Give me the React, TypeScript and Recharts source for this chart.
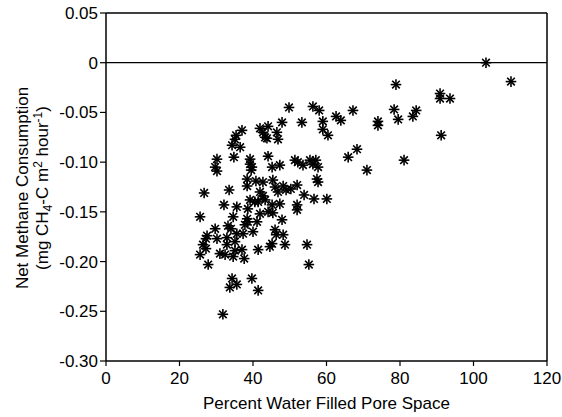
import React from 'react';
import { ScatterChart, Scatter, XAxis, YAxis, ReferenceLine } from 'recharts';

const wfps = [
  103.4, 110.2, 78.9, 90.9, 90.9, 93.6, 49.8, 56.3, 58.0, 67.2, 78.4, 84.4, 83.5, 79.5, 62.6, 63.9,
  59.0, 53.3, 47.9, 74.0, 74.0, 59.0, 60.4, 91.2, 68.3, 65.9, 81.1, 71.0, 55.5, 57.1, 56.3, 57.7,
  53.6, 57.4, 57.7, 53.9, 56.6, 60.1, 41.9, 44.1, 46.5, 46.8, 42.7, 43.3, 43.8, 37.0, 35.4, 35.1,
  34.3, 36.5, 34.8, 30.2, 29.7, 30.2, 39.2, 39.2, 39.7, 39.5, 44.1, 45.2, 47.3, 51.4, 52.2, 38.4,
  40.8, 38.4, 42.7, 45.4, 46.0, 46.8, 48.2, 49.0, 50.3, 52.0, 33.5, 26.7, 41.9, 42.7, 43.3, 39.2,
  40.5, 41.4, 32.1, 35.6, 38.6, 45.2, 47.3, 52.0, 52.0, 41.9, 44.1, 45.4, 25.6, 34.6, 38.4, 38.6,
  37.8, 47.9, 33.2, 34.0, 41.1, 29.7, 27.5, 27.2, 30.2, 32.9, 35.6, 37.3, 40.0, 46.0, 46.3, 48.2,
  48.7, 45.2, 44.6, 41.4, 54.7, 26.4, 27.2, 25.6, 32.9, 31.0, 32.4, 35.1, 37.0, 34.6, 37.6, 27.8,
  55.2, 34.3, 39.7, 33.7, 35.6, 41.4, 31.8, 35.1,
];

const methane = [
  0.0, -0.019, -0.022, -0.031, -0.036, -0.036, -0.045, -0.044, -0.048, -0.048, -0.047, -0.048, -0.054, -0.057, -0.054, -0.058,
  -0.059, -0.06, -0.06, -0.059, -0.063, -0.067, -0.073, -0.073, -0.087, -0.095, -0.098, -0.108, -0.098, -0.098, -0.102, -0.105,
  -0.103, -0.117, -0.12, -0.133, -0.137, -0.137, -0.066, -0.064, -0.07, -0.077, -0.07, -0.075, -0.076, -0.068, -0.073, -0.077,
  -0.083, -0.085, -0.095, -0.097, -0.105, -0.109, -0.097, -0.102, -0.105, -0.108, -0.094, -0.105, -0.103, -0.098, -0.1, -0.117,
  -0.119, -0.124, -0.12, -0.118, -0.125, -0.13, -0.124, -0.128, -0.127, -0.123, -0.128, -0.131, -0.13, -0.134, -0.138, -0.138,
  -0.14, -0.14, -0.143, -0.145, -0.147, -0.143, -0.142, -0.143, -0.148, -0.152, -0.15, -0.151, -0.155, -0.155, -0.157, -0.16,
  -0.163, -0.158, -0.164, -0.167, -0.16, -0.167, -0.174, -0.177, -0.177, -0.176, -0.172, -0.172, -0.17, -0.168, -0.173, -0.173,
  -0.183, -0.182, -0.185, -0.188, -0.183, -0.183, -0.187, -0.193, -0.183, -0.192, -0.193, -0.189, -0.188, -0.195, -0.197, -0.203,
  -0.203, -0.217, -0.217, -0.226, -0.223, -0.229, -0.253, -0.18,
];

const xTicks = [0, 20, 40, 60, 80, 100, 120];
const yTicks = [-0.3, -0.25, -0.2, -0.15, -0.1, -0.05, 0, 0.05];

const points = wfps.map((x, i) => ({ x, y: methane[i] }));

const FONT = '"Liberation Sans", Arial, Helvetica, sans-serif';

const Asterisk = (props: any) => {
  const { cx, cy } = props;
  if (cx == null || cy == null) return null;
  const r = 4.5;
  const d = r * 0.72;
  return (
    <g stroke="#000" strokeWidth={1.6} strokeLinecap="square">
      <line x1={cx - r} y1={cy} x2={cx + r} y2={cy} />
      <line x1={cx} y1={cy - r} x2={cx} y2={cy + r} />
      <line x1={cx - d} y1={cy - d} x2={cx + d} y2={cy + d} />
      <line x1={cx - d} y1={cy + d} x2={cx + d} y2={cy - d} />
    </g>
  );
};

const YLabel = (props: any) => {
  const vb = props.viewBox || { x: 0, y: 13, width: 106, height: 348 };
  const cy = vb.y + vb.height / 2 + 1;
  const x1 = vb.x + 28;
  const x2 = vb.x + 48;
  return (
    <g fontFamily={FONT} fontSize={17} fill="#000">
      <text x={x1} y={cy} textAnchor="middle" transform={`rotate(-90, ${x1}, ${cy})`}>
        Net Methane Consumption
      </text>
      <text x={x2} y={cy} textAnchor="middle" transform={`rotate(-90, ${x2}, ${cy})`}>
        (mg CH
        <tspan fontSize={12} dy={4}>4</tspan>
        <tspan dy={-4}>-C m</tspan>
        <tspan fontSize={12} dy={-6}>2</tspan>
        <tspan dy={6}> hour</tspan>
        <tspan fontSize={12} dy={-6}>-1</tspan>
        <tspan dy={6}>)</tspan>
      </text>
    </g>
  );
};

const XLabel = (props: any) => {
  const vb = props.viewBox || { x: 106, y: 361, width: 441, height: 30 };
  return (
    <text
      x={vb.x + vb.width / 2}
      y={409}
      textAnchor="middle"
      fontFamily={FONT}
      fontSize={17}
      fill="#000"
    >
      Percent Water Filled Pore Space
    </text>
  );
};

export default function App() {
  return (
    <div style={{ position: 'absolute', left: 0, top: 0, width: 562, height: 417, background: '#fff' }}>
      <ScatterChart width={562} height={417} margin={{ top: 13, right: 15, bottom: 26, left: 0 }}>
        <XAxis
          type="number"
          dataKey="x"
          domain={[0, 120]}
          ticks={xTicks}
          interval={0}
          height={30}
          axisLine={{ stroke: '#000', strokeWidth: 1.5 }}
          tickLine={{ stroke: '#000', strokeWidth: 1.2 }}
          tickSize={5}
          tickMargin={6}
          tick={{ fill: '#000', fontSize: 17, fontFamily: FONT }}
          allowDataOverflow
          label={{ content: XLabel }}
        />
        <YAxis
          type="number"
          dataKey="y"
          domain={[-0.3, 0.05]}
          ticks={yTicks}
          interval={0}
          width={106}
          axisLine={{ stroke: '#000', strokeWidth: 1.5 }}
          tickLine={{ stroke: '#000', strokeWidth: 1.2 }}
          tickSize={6}
          tickMargin={2}
          tick={{ fill: '#000', fontSize: 17, fontFamily: FONT }}
          tickFormatter={(v: number) => (v === 0 ? '0' : v.toFixed(2))}
          allowDataOverflow
          label={{ content: YLabel }}
        />
        <ReferenceLine y={0.05} stroke="#000" strokeWidth={1.5} />
        <ReferenceLine x={120} stroke="#000" strokeWidth={1.5} />
        <ReferenceLine y={0} stroke="#000" strokeWidth={1.3} />
        <Scatter data={points} shape={Asterisk} isAnimationActive={false} />
      </ScatterChart>
    </div>
  );
}
